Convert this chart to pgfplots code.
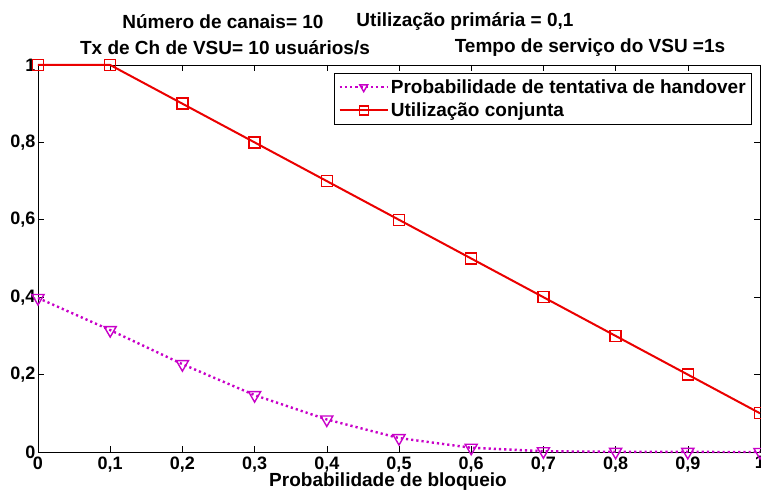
\documentclass[border=0pt]{standalone}
\usepackage{pgfplots}
\pgfplotsset{compat=1.18}
\usepackage{fontspec}
\setmainfont{Liberation Sans}
\definecolor{mag}{RGB}{200,0,200}
\definecolor{myred}{RGB}{235,0,0}
\begin{document}
\begin{tikzpicture}[x=1pt,y=1pt]
\clip (-38,-46) rectangle (723,452);
\fill[white] (-38,-46) rectangle (723,452);
\begin{axis}[
  at={(0,0)}, anchor=south west,
  scale only axis, width=722pt, height=387pt,
  xmin=0, xmax=1, ymin=0, ymax=1,
  xtick={0,0.1,...,1}, ytick={0,0.2,...,1},
  tick align=inside, major tick length=6pt,
  axis line style={black, line width=0.8pt},
  tick style={black, line width=0.6pt},
  /pgf/number format/use comma,
  /pgf/number format/assume math mode=true,
  ticklabel style={font=\fontsize{18}{20}\selectfont\bfseries},
  xticklabel style={yshift=-1pt},
  yticklabel style={xshift=1pt},
  xlabel={Probabilidade de bloqueio},
  xlabel style={font=\fontsize{19}{21}\selectfont\bfseries, yshift=6pt, xshift=-11pt},
  legend style={at={(0.989,0.979)}, anchor=north east, draw=black, line width=0.8pt,
    font=\fontsize{19}{21}\selectfont\bfseries, row sep=4pt, inner sep=4pt},
  legend cell align=left,
  legend image code/.code={%
    \draw[mark repeat=2, mark phase=2, #1, mark size=4.5pt]
      plot coordinates {(0pt,0pt) (24pt,0pt) (48pt,0pt)};},
  clip=false,
]
\addplot[color=mag, line width=2.4pt, dash pattern=on 2.2pt off 3pt, mark=triangle, mark size=7pt,
  mark options={solid, draw=mag, line width=1.4pt, rotate=180}] coordinates {
(0,0.398) (0.1,0.315) (0.2,0.227) (0.3,0.147) (0.4,0.084) (0.5,0.036)
(0.6,0.011) (0.7,0.002) (0.8,0.0005) (0.9,0.0002) (1,0)};
\addlegendentry{Probabilidade de tentativa de handover}
\addplot[color=myred, line width=2pt, mark=square, mark size=5.5pt,
  mark options={solid, draw=myred, line width=1.4pt}] coordinates {
(0,1) (0.1,1) (0.2,0.9) (0.3,0.8) (0.4,0.7) (0.5,0.6)
(0.6,0.5) (0.7,0.4) (0.8,0.3) (0.9,0.2) (1,0.1)};
\addlegendentry{Utilização conjunta}
\end{axis}
\node[font=\fontsize{19}{21}\selectfont\bfseries] at (185,430) {Número de canais= 10};
\node[font=\fontsize{19}{21}\selectfont\bfseries] at (427,430) {Utilização primária = 0,1};
\node[font=\fontsize{19}{21}\selectfont\bfseries] at (187,404) {Tx de Ch de VSU= 10 usuários/s};
\node[font=\fontsize{19}{21}\selectfont\bfseries] at (552,404) {Tempo de serviço do VSU =1s};
\end{tikzpicture}
\end{document}
